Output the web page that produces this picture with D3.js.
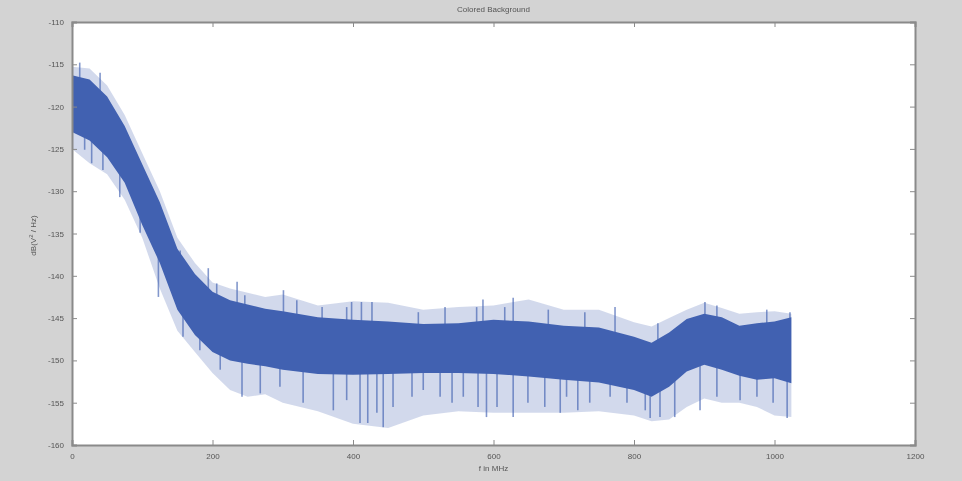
<!DOCTYPE html>
<html>
<head>
<meta charset="utf-8">
<script src="https://cdn.jsdelivr.net/npm/d3@7"></script>
<style>
    body { margin: 0; background: #d3d3d3; }
    svg { display: block; }
    .tick-label { font-family: "Liberation Sans", Arial, sans-serif; font-size: 8px; fill: #555; }
</style>
</head>
<body>
<svg id="chart" width="962" height="481"></svg>
<script>
// frequency samples (MHz) and the band (dB)
var freqs    = [0, 25, 50, 75, 100, 125, 150, 175, 200, 225, 250, 275, 300, 350, 400, 450, 500, 550, 600, 650, 700, 750, 800, 825, 850, 875, 900, 925, 950, 975, 1000, 1024];
var outerTop = [-115.3, -115.5, -117.5, -121, -125.5, -130, -135.5, -138.5, -140.8, -141.5, -142, -142.5, -142.2, -143.5, -143, -143.2, -144, -143.7, -143.5, -142.8, -144, -144, -145.5, -146, -145, -144, -143.2, -143.8, -144.5, -144.3, -144.2, -144.5];
var coreTop  = [-116.3, -116.8, -118.8, -122.3, -126.8, -131.3, -136.8, -139.8, -141.9, -142.9, -143.4, -143.9, -144.2, -144.9, -145.2, -145.4, -145.7, -145.6, -145.2, -145.4, -145.9, -146.1, -147.2, -147.9, -146.7, -145.1, -144.5, -144.9, -145.9, -145.6, -145.4, -144.9];
var coreBot  = [-123, -124, -126, -129, -134, -138.5, -144, -147, -149, -150, -150.4, -150.7, -151.1, -151.6, -151.7, -151.6, -151.5, -151.5, -151.6, -151.9, -152.3, -152.6, -153.5, -154.3, -153.1, -151.3, -150.5, -151.1, -151.8, -152.3, -152.1, -152.7];
var outerBot = [-125, -126.7, -128, -131, -135.5, -141.5, -146.5, -149, -151.5, -153.5, -154.3, -154, -155, -156, -157.5, -158, -156.5, -156, -156.2, -156.2, -156.2, -156, -156.5, -157.2, -157, -155.5, -154.5, -155, -155, -155.5, -156.5, -156.7];

// single spikes that stick out of the band [MHz, dB]
var upSpikes = [[11, -114.8], [40, -116], [154, -137], [194, -139.1], [206, -140.9], [235, -140.7], [246, -142.3], [301, -141.7], [320, -142.9], [356, -143.7], [391, -143.7], [398, -143.1], [412, -143.1], [427, -143.1], [493, -144.3], [531, -143.7], [576, -143.7], [585, -142.8], [616, -143.7], [628, -142.6], [678, -144], [730, -144.3], [773, -143.7], [834, -145.6], [901, -143.1], [918, -143.5], [989, -144], [1022, -144.3]];
var downSpikes = [[18, -125.1], [28, -126.7], [44, -127.5], [68, -130.7], [97, -134.9], [123, -142.5], [158, -147.2], [182, -148.8], [211, -151.1], [242, -154.3], [268, -153.9], [296, -153.1], [329, -155], [372, -155.9], [391, -154.7], [410, -157.4], [421, -157.4], [434, -156.2], [443, -157.9], [457, -155.5], [484, -154.3], [500, -153.5], [524, -154.3], [541, -155], [557, -154.3], [578, -155.5], [590, -156.7], [605, -155.5], [628, -156.7], [649, -155], [673, -155.5], [695, -156.2], [704, -154.3], [720, -155.9], [737, -155], [766, -154.3], [790, -155], [816, -155.9], [823, -156.8], [837, -156.7], [858, -156.7], [894, -155.9], [918, -154.3], [951, -154.7], [975, -154.3], [998, -155], [1018, -156.8]];

var xTicks = [0, 200, 400, 600, 800, 1000, 1200];
var yTicks = [-110, -115, -120, -125, -130, -135, -140, -145, -150, -155, -160];

var margin = {left: 72, right: 47, top: 22, bottom: 36};
var width = 962, height = 481;
var lineColor = "#4161b1";

function drawChart() {
    var svg = d3.select("#chart");
    var g = svg.append("g").style("filter", "blur(0.5px)");

    var x = d3.scaleLinear().domain([0, 1200]).range([margin.left, width - margin.right]);
    var y = d3.scaleLinear().domain([-160, -110]).range([height - margin.bottom, margin.top]);

    g.append("rect")
        .attr("x", x(0)).attr("y", y(-110))
        .attr("width", x(1200) - x(0)).attr("height", y(-160) - y(-110))
        .style("fill", "white");

    // light outer band (where the noise spikes are)
    g.append("path")
        .datum(freqs)
        .attr("d", d3.area()
            .x(function(d, i) { return x(freqs[i]); })
            .y0(function(d, i) { return y(outerBot[i]); })
            .y1(function(d, i) { return y(outerTop[i]); }))
        .style("fill", lineColor)
        .style("opacity", 0.24);

    var mid = d3.scaleLinear().domain(freqs).range(freqs.map(function(d, i) { return (coreTop[i] + coreBot[i]) / 2; }));

    g.selectAll("line.spike")
        .data(upSpikes.concat(downSpikes))
        .enter().append("line")
        .attr("class", "spike")
        .attr("x1", function(d) { return x(d[0]); })
        .attr("x2", function(d) { return x(d[0]); })
        .attr("y1", function(d) { return y(mid(d[0])); })
        .attr("y2", function(d) { return y(d[1]); })
        .style("stroke", lineColor)
        .style("stroke-width", 1.6)
        .style("opacity", 0.65);

    // dense core of the trace
    g.append("path")
        .datum(freqs)
        .attr("d", d3.area()
            .x(function(d, i) { return x(freqs[i]); })
            .y0(function(d, i) { return y(coreBot[i]); })
            .y1(function(d, i) { return y(coreTop[i]); }))
        .style("fill", lineColor);

    // axes box with inward ticks on all four sides
    var axisColor = "#8a8a8a";
    var plain = function(d) { return String(d); };
    g.append("g")
        .attr("transform", "translate(0," + y(-160) + ")")
        .call(d3.axisBottom(x).tickValues(xTicks).tickSize(-5).tickPadding(8).tickFormat(plain));
    g.append("g")
        .attr("transform", "translate(0," + y(-110) + ")")
        .call(d3.axisTop(x).tickValues(xTicks).tickSize(-5).tickFormat(""));
    g.append("g")
        .attr("transform", "translate(" + x(0) + ",0)")
        .call(d3.axisLeft(y).tickValues(yTicks).tickSize(-5).tickPadding(8).tickFormat(plain));
    g.append("g")
        .attr("transform", "translate(" + x(1200) + ",0)")
        .call(d3.axisRight(y).tickValues(yTicks).tickSize(-5).tickFormat(""));

    g.selectAll(".domain").style("stroke", axisColor).style("stroke-width", 2);
    g.selectAll(".tick line").style("stroke", axisColor);
    g.selectAll(".tick text").attr("class", "tick-label");

    g.append("text")
        .attr("x", (x(0) + x(1200)) / 2).attr("y", 12)
        .attr("text-anchor", "middle")
        .attr("class", "tick-label")
        .text("Colored Background");

    g.append("text")
        .attr("x", (x(0) + x(1200)) / 2).attr("y", 471)
        .attr("text-anchor", "middle")
        .attr("class", "tick-label")
        .text("f in MHz");

    var yl = g.append("text")
        .attr("transform", "translate(36," + (y(-135) + 2) + ") rotate(-90)")
        .attr("text-anchor", "middle")
        .attr("class", "tick-label");
    yl.append("tspan").text("dB(V");
    yl.append("tspan").attr("dy", -3).style("font-size", "6px").text("2");
    yl.append("tspan").attr("dy", 3).text(" / Hz)");
}

drawChart();
</script>
</body>
</html>
